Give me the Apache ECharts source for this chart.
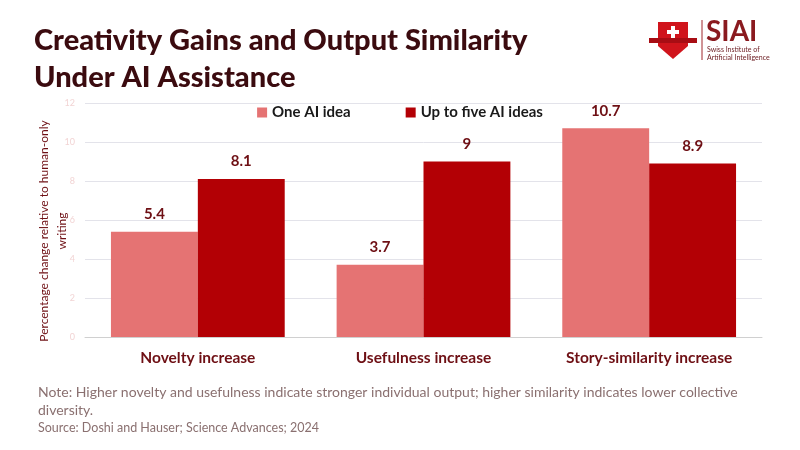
<!DOCTYPE html>
<html>
<head>
<meta charset="utf-8">
<script src="https://cdn.jsdelivr.net/npm/echarts@6/dist/echarts.min.js"></script>
<style>
  html, body { margin: 0; padding: 0; background: #fff; }
  #main { width: 800px; height: 450px; }
</style>
</head>
<body>
<div id="main"></div>
<script>
// 数据
var categories = ['Novelty increase', 'Usefulness increase', 'Story-similarity increase'];
var oneIdea = [5.4, 3.7, 10.7];
var fiveIdeas = [8.1, 9, 8.9];
var seriesNames = ['One AI idea', 'Up to five AI ideas'];

var fontMain = 'Lato, "Noto Sans", sans-serif';
var maroon = '#3b0b0f';
var labelRed = '#6e0f14';

var chart = echarts.init(document.getElementById('main'));

var option = {
  backgroundColor: '#fff',
  textStyle: { fontFamily: fontMain },
  title: [{
    text: 'Creativity Gains and Output Similarity\nUnder AI Assistance',
    left: 29,
    top: 17,
    textStyle: {
      fontSize: 29,
      fontWeight: 900,
      color: maroon,
      lineHeight: 37,
      fontFamily: fontMain
    }
  }, {
    text: 'Note: Higher novelty and usefulness indicate stronger individual output; higher similarity indicates lower collective\ndiversity.',
    left: 33,
    top: 378,
    textStyle: { fontSize: 14, fontWeight: 'normal', color: '#8a7070', lineHeight: 18, fontFamily: fontMain }
  }, {
    text: 'Source: Doshi and Hauser; Science Advances; 2024',
    left: 33,
    top: 416,
    textStyle: { fontSize: 12.5, fontWeight: 'normal', color: '#8a7070', fontFamily: fontMain }
  }],
  legend: {
    data: seriesNames,
    top: 100,
    left: 'center',
    itemWidth: 10,
    itemHeight: 10,
    itemGap: 55,
    icon: 'rect',
    textStyle: { fontSize: 15, fontWeight: 'bold', color: '#1a1a1a', fontFamily: fontMain }
  },
  grid: {
    left: 85,
    right: 38,
    top: 103,
    bottom: 113
  },
  xAxis: {
    type: 'category',
    data: categories,
    axisTick: { show: false },
    axisLine: { lineStyle: { color: '#d0d0d0' } },
    axisLabel: {
      margin: 13,
      fontSize: 15.5,
      fontWeight: 'bold',
      color: labelRed,
      fontFamily: fontMain
    }
  },
  yAxis: {
    type: 'value',
    min: 0,
    max: 12,
    interval: 2,
    name: 'Percentage change relative to human-only\nwriting',
    nameLocation: 'middle',
    nameGap: 14,
    nameMoveOverlap: false,
    nameTextStyle: { fontSize: 12, color: labelRed, lineHeight: 18, align: 'center', padding: [0, 22, 0, 0], fontFamily: fontMain },
    axisLine: { show: false },
    axisTick: { show: false },
    axisLabel: { fontSize: 9, color: '#f2d4d4', margin: 10 },
    splitLine: { lineStyle: { color: '#e3e3ea' } }
  },
  series: [{
    name: seriesNames[0],
    type: 'bar',
    data: oneIdea,
    barGap: '0%',
    barCategoryGap: '23%',
    itemStyle: { color: '#e57373' },
    label: {
      show: true,
      position: 'top',
      distance: 10,
      fontSize: 15,
      fontWeight: 'bold',
      color: labelRed,
      fontFamily: fontMain
    }
  }, {
    name: seriesNames[1],
    type: 'bar',
    data: fiveIdeas,
    barGap: '0%',
    barCategoryGap: '23%',
    itemStyle: { color: '#b30005' },
    label: {
      show: true,
      position: 'top',
      distance: 10,
      fontSize: 15,
      fontWeight: 'bold',
      color: labelRed,
      fontFamily: fontMain
    }
  }],
  graphic: [
    // SIAI 标志
    {
      type: 'polygon',
      shape: { points: [[658, 22], [688, 22], [688, 46], [673, 59], [658, 46]] },
      style: { fill: '#d0141c' }
    },
    {
      type: 'rect',
      shape: { x: 649, y: 38, width: 48, height: 5 },
      style: { fill: '#a80d14' }
    },
    {
      type: 'rect',
      shape: { x: 671, y: 26, width: 4, height: 12 },
      style: { fill: '#fff' }
    },
    {
      type: 'rect',
      shape: { x: 667, y: 30, width: 12, height: 4 },
      style: { fill: '#fff' }
    },
    {
      type: 'line',
      shape: { x1: 702, y1: 20, x2: 702, y2: 60 },
      style: { stroke: '#a0262c', lineWidth: 1 }
    },
    {
      type: 'text',
      left: 706,
      top: 18,
      style: { text: 'SIAI', fontSize: 28, fontWeight: 'bold', fill: '#8a1a1f', fontFamily: fontMain }
    },
    {
      type: 'text',
      left: 707,
      top: 46,
      style: { text: 'Swiss Institute of\nArtificial Intelligence', fontSize: 7, lineHeight: 8, fill: '#6a1a1f', fontFamily: fontMain }
    }
  ]
};

chart.setOption(option);
</script>
</body>
</html>
